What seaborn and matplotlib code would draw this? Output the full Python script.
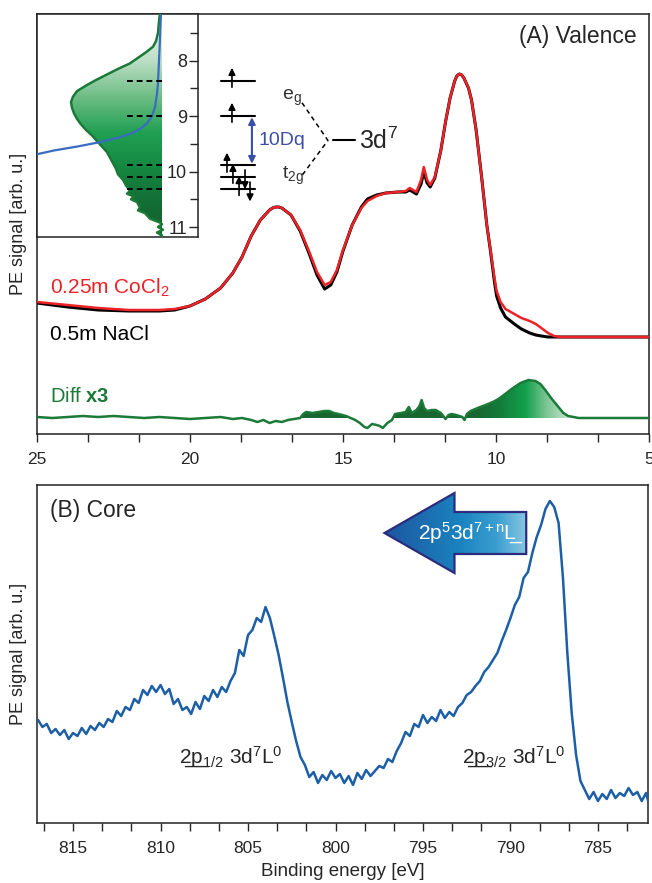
import numpy as np
import matplotlib
matplotlib.use("Agg")
import matplotlib.pyplot as plt
import matplotlib.transforms as mtransforms
from matplotlib.colors import LinearSegmentedColormap, Normalize
from matplotlib.path import Path
from matplotlib.patches import Polygon
from matplotlib.collections import PathCollection
from matplotlib.ticker import MultipleLocator
import seaborn as sns

# ---- (A) valence spectra, binding energy [eV] vs signal [arb. u.]
ev_val = [25.0, 24.0, 23.0, 22.0, 21.0, 20.5, 20.0, 19.5, 19.0, 18.6, 18.3, 18.0, 17.7, 17.4,
          17.3, 17.2, 17.1, 17.0, 16.7, 16.4, 16.1, 15.85, 15.6, 15.4, 15.2, 15.0, 14.7, 14.4,
          14.2, 13.9, 13.6, 13.2, 12.95, 12.82, 12.6, 12.45, 12.36, 12.25, 12.15, 12.0, 11.8,
          11.65, 11.5, 11.35, 11.28, 11.2, 11.12, 11.05, 10.9, 10.8, 10.65, 10.47, 10.3, 10.18,
          10.05, 9.98, 9.85, 9.69, 9.4, 9.17, 8.9, 8.7, 8.52, 8.3, 8.1, 7.9, 7.0, 6.0, 5.0]
cocl2 = [132, 129, 126, 124, 124, 125, 128, 135, 146, 161, 177, 198, 214, 224,
         226, 227, 227, 226, 219, 204, 182, 162, 149, 152, 164, 184, 209, 226,
         233, 238, 241, 242, 243, 246, 242, 254, 267, 254, 249, 257, 284,
         312, 336, 353, 358, 360, 359, 356, 346, 334, 304, 257, 209, 184,
         156, 143, 132, 125, 120, 116, 113, 110, 106, 101, 98, 97, 97, 97, 97]
nacl = [131, 127, 124, 123, 123, 124, 128, 135, 146, 161, 177, 198, 214, 224,
        226, 227, 227, 226, 219, 203, 180, 159, 145, 149, 162, 183, 209, 227,
        235, 239, 241, 242, 242, 244, 240, 250, 262, 251, 247, 256, 284,
        312, 336, 353, 358, 360, 359, 356, 346, 334, 304, 257, 209, 183,
        152, 138, 126, 117, 110, 105, 101, 99, 98, 97, 97, 97, 97, 97, 97]

ev_diff = [25.0, 24.5, 24.0, 23.5, 23.0, 22.5, 22.0, 21.5, 21.0, 20.5, 20.0, 19.5, 19.0, 18.6,
           18.3, 18.0, 17.8, 17.6, 17.4, 17.2, 17.0, 16.8, 16.6, 16.4, 16.3, 16.2, 16.0, 15.8,
           15.6, 15.45, 15.3, 15.15, 14.9, 14.75, 14.6, 14.45, 14.3, 14.2, 14.05, 13.9, 13.8,
           13.7, 13.55, 13.4, 13.3, 13.1, 12.95, 12.85, 12.75, 12.6, 12.5, 12.43, 12.35, 12.25,
           12.1, 11.97, 11.8, 11.65, 11.55, 11.45, 11.3, 11.1, 11.03, 10.95, 10.83, 10.6, 10.34,
           10.1, 9.92, 9.7, 9.49, 9.2, 8.94, 8.71, 8.55, 8.39, 8.2, 7.96, 7.8, 7.64, 7.3, 6.0, 5.0]
diff_x3 = [1, 0, 1, 2, 1, 2, 1, 0, 1, 0, -1, 0, 1, -1,
           0, -2, -4, -2, -5, -3, -4, -2, -1, 0, 4, 6, 5, 6,
           7, 7, 5, 4, 2, 0, -2, -5, -9, -10, -6, -7, -8,
           -10, -5, -2, 4, 5, 6, 11, 5, 8, 12, 18, 10, 7,
           8, 8, 5, -1, 3, 4, 3, 1, -2, 4, 7, 10, 13,
           16, 19, 24, 29, 35, 38, 37, 34, 28, 20, 11, 5, 2, 0, 0, 0]
diff_offset = 16

# ---- inset: Co 3d band, energy [eV] vs signal
inset_e = [7.13, 7.3, 7.5, 7.65, 7.75, 7.85, 7.95, 8.05, 8.15, 8.25, 8.35, 8.45, 8.55, 8.65,
           8.75, 8.85, 8.95, 9.05, 9.15, 9.25, 9.35, 9.45, 9.55, 9.65, 9.75, 9.85, 9.95, 10.05,
           10.15, 10.25, 10.35, 10.4, 10.45, 10.5, 10.55, 10.65, 10.7, 10.75, 10.85, 10.92,
           10.95, 11.0, 11.05, 11.1, 11.15, 11.18]
inset_sig = [2, 3, 4, 6, 9, 16, 24, 32, 44, 55, 66, 76, 85, 89,
             91, 90, 88, 85, 81, 76, 70, 65, 60, 55, 52, 49, 46, 44,
             39, 36, 32, 35, 28, 31, 25, 22, 24, 17, 12, 2,
             0, 4, -1, 5, 0, 2]
fermi_e = [7.13, 7.6, 8.0, 8.4, 8.6, 8.84, 9.0, 9.13, 9.22, 9.3, 9.38, 9.47, 9.55, 9.62, 9.7, 9.8]
fermi_sig = [1, 2, 3, 4, 5, 7, 10, 15, 21, 29, 42, 62, 85, 108, 128, 160]
eg_levels = [8.36, 8.99]
t2g_levels = [9.89, 10.09, 10.31]

# ---- (B) Co 2p core spectrum
ev_core = [817.0, 816.75, 816.5, 816.25, 816.0, 815.75, 815.5, 815.25, 815.0, 814.75, 814.5,
           814.25, 814.0, 813.75, 813.5, 813.25, 813.0, 812.75, 812.5, 812.25, 812.0, 811.75,
           811.5, 811.25, 811.0, 810.75, 810.5, 810.25, 810.0, 809.75, 809.5, 809.25, 809.0,
           808.75, 808.5, 808.25, 808.0, 807.75, 807.5, 807.25, 807.0, 806.75, 806.5, 806.25,
           806.0, 805.75, 805.5, 805.25, 805.0, 804.75, 804.5, 804.25, 804.0, 803.75, 803.5,
           803.25, 803.0, 802.75, 802.5, 802.25, 802.0, 801.75, 801.5, 801.25, 801.0, 800.75,
           800.5, 800.25, 800.0, 799.75, 799.5, 799.25, 799.0, 798.75, 798.5, 798.25, 798.0,
           797.75, 797.5, 797.25, 797.0, 796.75, 796.5, 796.25, 796.0, 795.75, 795.5, 795.25,
           795.0, 794.75, 794.5, 794.25, 794.0, 793.75, 793.5, 793.25, 793.0, 792.75, 792.5,
           792.25, 792.0, 791.75, 791.5, 791.25, 791.0, 790.75, 790.5, 790.25, 790.0, 789.75,
           789.5, 789.25, 789.0, 788.75, 788.5, 788.25, 788.0, 787.75, 787.5, 787.25, 787.0,
           786.75, 786.5, 786.25, 786.0, 785.75, 785.5, 785.25, 785.0, 784.75, 784.5, 784.25,
           784.0, 783.75, 783.5, 783.25, 783.0, 782.75, 782.5, 782.25, 782.1]
core = [103, 96, 99, 90, 94, 88, 93, 84, 90, 87, 95,
        89, 97, 93, 100, 96, 104, 101, 112, 107, 116, 113,
        124, 120, 133, 128, 137, 131, 138, 129, 134, 119, 124,
        113, 116, 109, 121, 114, 127, 122, 133, 126, 136, 131,
        142, 150, 173, 167, 188, 193, 205, 201, 216, 205, 187,
        168, 145, 121, 101, 82, 66, 58, 46, 51, 40, 48,
        43, 52, 45, 49, 40, 47, 38, 50, 44, 53, 47,
        52, 57, 55, 64, 61, 72, 80, 91, 87, 99, 96,
        108, 100, 106, 102, 113, 105, 111, 107, 116, 120, 128,
        131, 137, 142, 151, 156, 163, 170, 182, 193, 205, 218,
        226, 245, 251, 270, 286, 298, 314, 322, 316, 300, 245,
        170, 110, 68, 42, 33, 24, 31, 22, 29, 24, 33,
        25, 30, 27, 35, 28, 31, 22, 30, 20]

# arrow annotation in panel B (data units)
arrow_tip, arrow_neck, arrow_tail = 797.2, 793.2, 789.1
arrow_mid, arrow_head_half, arrow_body_half = 290, 40, 21

RED = "#ec2227"
GREEN = "#1b7a37"
BLUE = "#1d5fa7"
DQ_BLUE = "#3c4ea6"

sns.set_style("ticks")
plt.rcParams['font.family'] = ['Liberation Sans', 'DejaVu Sans']
plt.rcParams['mathtext.fontset'] = 'custom'
plt.rcParams['mathtext.rm'] = 'Liberation Sans'
plt.rcParams['mathtext.it'] = 'Liberation Sans:italic'
plt.rcParams['mathtext.bf'] = 'Liberation Sans:bold'
plt.rcParams['mathtext.default'] = 'regular'
plt.rcParams['axes.linewidth'] = 1.1
plt.rcParams['axes.edgecolor'] = '#222222'


def gradient_into(ax, coll, values, extent, cmap, norm, vertical=False):
    path = Path.make_compound_path(*coll.get_paths())
    values = np.asarray(values)
    img = values[:, np.newaxis] if vertical else values[np.newaxis, :]
    im = ax.imshow(img, extent=extent, cmap=cmap, norm=norm, aspect='auto',
                   origin='upper', interpolation='bicubic', zorder=coll.get_zorder())
    im.set_clip_path(path, ax.transData)
    coll.remove()
    return im


fig = plt.figure(figsize=(6.52, 8.83), dpi=100)
ax_a = fig.add_axes([37 / 652, 1 - 434 / 883, 612 / 652, 420 / 883])
ax_b = fig.add_axes([37 / 652, 1 - 823 / 883, 611 / 652, 338 / 883])
ax_in = fig.add_axes([37 / 652, 1 - 237 / 883, 161 / 652, 223 / 883])

# ---------------- panel A
ev_d = np.array(ev_diff)
d = np.array(diff_x3)
fill = ax_a.fill_between(ev_d, diff_offset, diff_offset + d, where=(d > 0) & (ev_d < 16.4),
                         interpolate=True, facecolor='none', edgecolor='none', zorder=2)
diff_cmap = LinearSegmentedColormap.from_list("diffgreen", [
    (0.0, "#e6f3e9"), (0.12, "#d2ebd8"), (0.165, "#7fc796"), (0.2, "#12a04c"),
    (0.245, "#137a3a"), (0.28, "#1a6630"), (1.0, "#1a6630")])
gradient_into(ax_a, fill, np.linspace(25, 5, 500), (25, 5, diff_offset - 12, diff_offset + 42),
              diff_cmap, Normalize(5, 25))
sns.lineplot(x=ev_d, y=diff_offset + d, ax=ax_a, color=GREEN, linewidth=1.8, zorder=3)
sns.lineplot(x=ev_val, y=nacl, ax=ax_a, color="black", linewidth=2.2, zorder=4)
sns.lineplot(x=ev_val, y=cocl2, ax=ax_a, color=RED, linewidth=1.8, zorder=5)

ax_a.set_yticks([])
ax_a.xaxis.set_major_locator(MultipleLocator(5))
ax_a.xaxis.set_minor_locator(MultipleLocator(5 / 3))
ax_a.tick_params(axis='x', which='both', direction='out', length=6, width=1, labelsize=12.5,
                 pad=7)
for s in ax_a.spines.values():
    s.set_visible(True)
ax_a.set_ylabel("PE signal [arb. u.]", fontsize=13)
ax_a.yaxis.set_label_coords(-0.016, 0.5)

ax_a.text(24.58, 146, "0.25m CoCl$_2$", color=RED, fontsize=15, va='center', ha='left')
ax_a.text(24.58, 99, "0.5m NaCl", color="black", fontsize=15, va='center', ha='left')
ax_a.text(24.58, 37, r"Diff $\mathbf{x3}$", color=GREEN, fontsize=14.5, va='center',
          ha='left')
ax_a.text(5.4, 398, "(A) Valence", fontsize=16.5, ha='right', va='center')

# ---------------- inset
e_in = np.array(inset_e)
s_in = np.array(inset_sig)
band = ax_in.fill_betweenx(e_in, 0, s_in, where=s_in > 0, interpolate=True,
                           facecolor='none', edgecolor='none', zorder=2)
band_cmap = LinearSegmentedColormap.from_list("bandgreen", [
    (0.0, "#f1f8f2"), (0.2, "#bfe0c8"), (0.37, "#6fbd86"), (0.53, "#21a052"),
    (0.68, "#158a42"), (0.83, "#137036"), (1.0, "#135e2e")])
gradient_into(ax_in, band, np.linspace(7.16, 11.18, 300), (125, 0, 11.18, 7.16),
              band_cmap, Normalize(7.16, 11.18), vertical=True)
ax_in.plot(inset_sig, inset_e, color=GREEN, linewidth=1.8, zorder=3)
ax_in.plot(fermi_sig, fermi_e, color="#3a6cc0", linewidth=1.6, zorder=4)
ax_in.hlines(eg_levels + t2g_levels, 0, 35, colors="black", linestyles=(0, (3, 2)),
             linewidth=1.4, zorder=5)
ax_in.set_xlim(125, -36)
ax_in.set_ylim(11.18, 7.16)
ax_in.set_xticks([])
ax_in.yaxis.tick_right()
ax_in.yaxis.set_major_locator(MultipleLocator(1))
ax_in.yaxis.set_minor_locator(MultipleLocator(0.5))
ax_in.tick_params(axis='y', which='major', direction='in', length=6.5, width=1,
                  labelsize=13, pad=-8)
ax_in.tick_params(axis='y', which='minor', direction='in', length=5.5, width=1)
for lab in ax_in.get_yticklabels():
    lab.set_ha('right')
for s in ax_in.spines.values():
    s.set_visible(True)
ax_in.set_facecolor("white")

# crystal-field level scheme beside the inset
blend = mtransforms.blended_transform_factory(ax_in.transAxes, ax_in.transData)
for lev in eg_levels + t2g_levels:
    ax_in.plot([1.143, 1.354], [lev, lev], color="black", linewidth=1.5, transform=blend,
               clip_on=False)


def spin(xf, lev, up=True):
    if up:
        tail, head = lev + 0.12, lev - 0.23
    else:
        tail, head = lev - 0.12, lev + 0.23
    ax_in.annotate("", xy=(xf, head), xytext=(xf, tail), xycoords=blend, textcoords=blend,
                   arrowprops=dict(arrowstyle='-|>', color='black', lw=1.2,
                                   mutation_scale=10, shrinkA=0, shrinkB=0),
                   annotation_clip=False)


spin(1.211, eg_levels[0])
spin(1.211, eg_levels[1])
spin(1.180, t2g_levels[0])
spin(1.217, t2g_levels[1])
spin(1.255, t2g_levels[2])
spin(1.292, t2g_levels[1], up=False)
spin(1.323, t2g_levels[2], up=False)
ax_in.annotate("", xy=(1.335, eg_levels[1] + 0.03), xytext=(1.335, t2g_levels[0] - 0.03),
               xycoords=blend, textcoords=blend,
               arrowprops=dict(arrowstyle='<|-|>', color=DQ_BLUE, lw=1.5,
                               mutation_scale=10, shrinkA=0, shrinkB=0),
               annotation_clip=False)
ax_in.text(1.373, 9.44, "10Dq", color=DQ_BLUE, fontsize=14, va='center', ha='left',
           transform=blend)
ax_in.text(1.52, 8.68, "e$_g$", color="#333333", fontsize=14, va='center', ha='left',
           transform=blend)
ax_in.text(1.52, 10.07, "t$_{2g}$", color="#333333", fontsize=14, va='center', ha='left',
           transform=blend)
ax_in.plot([1.646, 1.807, 1.646], [8.76, 9.44, 10.07], color="black", linewidth=1.1,
           linestyle=(0, (3, 2.5)), transform=blend, clip_on=False)
ax_in.plot([1.839, 1.975], [9.44, 9.44], color="black", linewidth=1.5, transform=blend,
           clip_on=False)
ax_in.text(2.0, 9.44, "3d$^7$", fontsize=18, va='center', ha='left', transform=blend)

# ---------------- panel B
sns.lineplot(x=ev_core, y=core, ax=ax_b, color=BLUE, linewidth=1.8, zorder=3)
ax_b.set_yticks([])
ax_b.xaxis.set_major_locator(MultipleLocator(5))
ax_b.xaxis.set_minor_locator(MultipleLocator(5 / 3))
ax_b.tick_params(axis='x', which='both', direction='out', length=6, width=1, labelsize=12.5,
                 pad=7)
for s in ax_b.spines.values():
    s.set_visible(True)
ax_b.set_ylabel("PE signal [arb. u.]", fontsize=13)
ax_b.yaxis.set_label_coords(-0.016, 0.5)
ax_b.set_xlabel("Binding energy [eV]", fontsize=13.5, labelpad=5)

ax_b.text(816.3, 312, "(B) Core", fontsize=16.5, ha='left', va='center')
ax_b.text(808.95, 66, "2\u0332p\u0332$_{1/2}$ 3d$^7$L$^0$", fontsize=15, ha='left',
          va='center')
ax_b.text(792.75, 66, "2\u0332p\u0332$_{3/2}$ 3d$^7$L$^0$", fontsize=15, ha='left',
          va='center')

arrow_pts = [(arrow_tip, arrow_mid),
             (arrow_neck, arrow_mid + arrow_head_half),
             (arrow_neck, arrow_mid + arrow_body_half),
             (arrow_tail, arrow_mid + arrow_body_half),
             (arrow_tail, arrow_mid - arrow_body_half),
             (arrow_neck, arrow_mid - arrow_body_half),
             (arrow_neck, arrow_mid - arrow_head_half)]
arrow_shape = Polygon(arrow_pts, closed=True)
arrow_coll = ax_b.add_collection(PathCollection([arrow_shape.get_path()], facecolor='none',
                                                edgecolor='none', zorder=5))
arrow_cmap = LinearSegmentedColormap.from_list("arrowblue", [
    (0.0, "#1d56a0"), (0.55, "#1b84c0"), (0.8, "#3c9fd0"), (1.0, "#86c4e2")])
gradient_into(ax_b, arrow_coll, np.linspace(0, 1, 200),
              (arrow_tip, arrow_tail, arrow_mid - arrow_head_half, arrow_mid + arrow_head_half),
              arrow_cmap, Normalize(0, 1))
ax_b.add_patch(Polygon(arrow_pts, closed=True, facecolor='none', edgecolor="#2b2c7e",
                       linewidth=1.6, zorder=6))
ax_b.text(792.3, arrow_mid, "2p$^5$3d$^{7+n}$L\u0332", color="white", fontsize=15,
          ha='center', va='center', zorder=7)

ax_a.set_xlim(25, 5)
ax_a.set_ylim(0, 420)
ax_b.set_xlim(817.06, 782.14)
ax_b.set_ylim(0, 338)

fig.savefig("out.png", dpi=100)
